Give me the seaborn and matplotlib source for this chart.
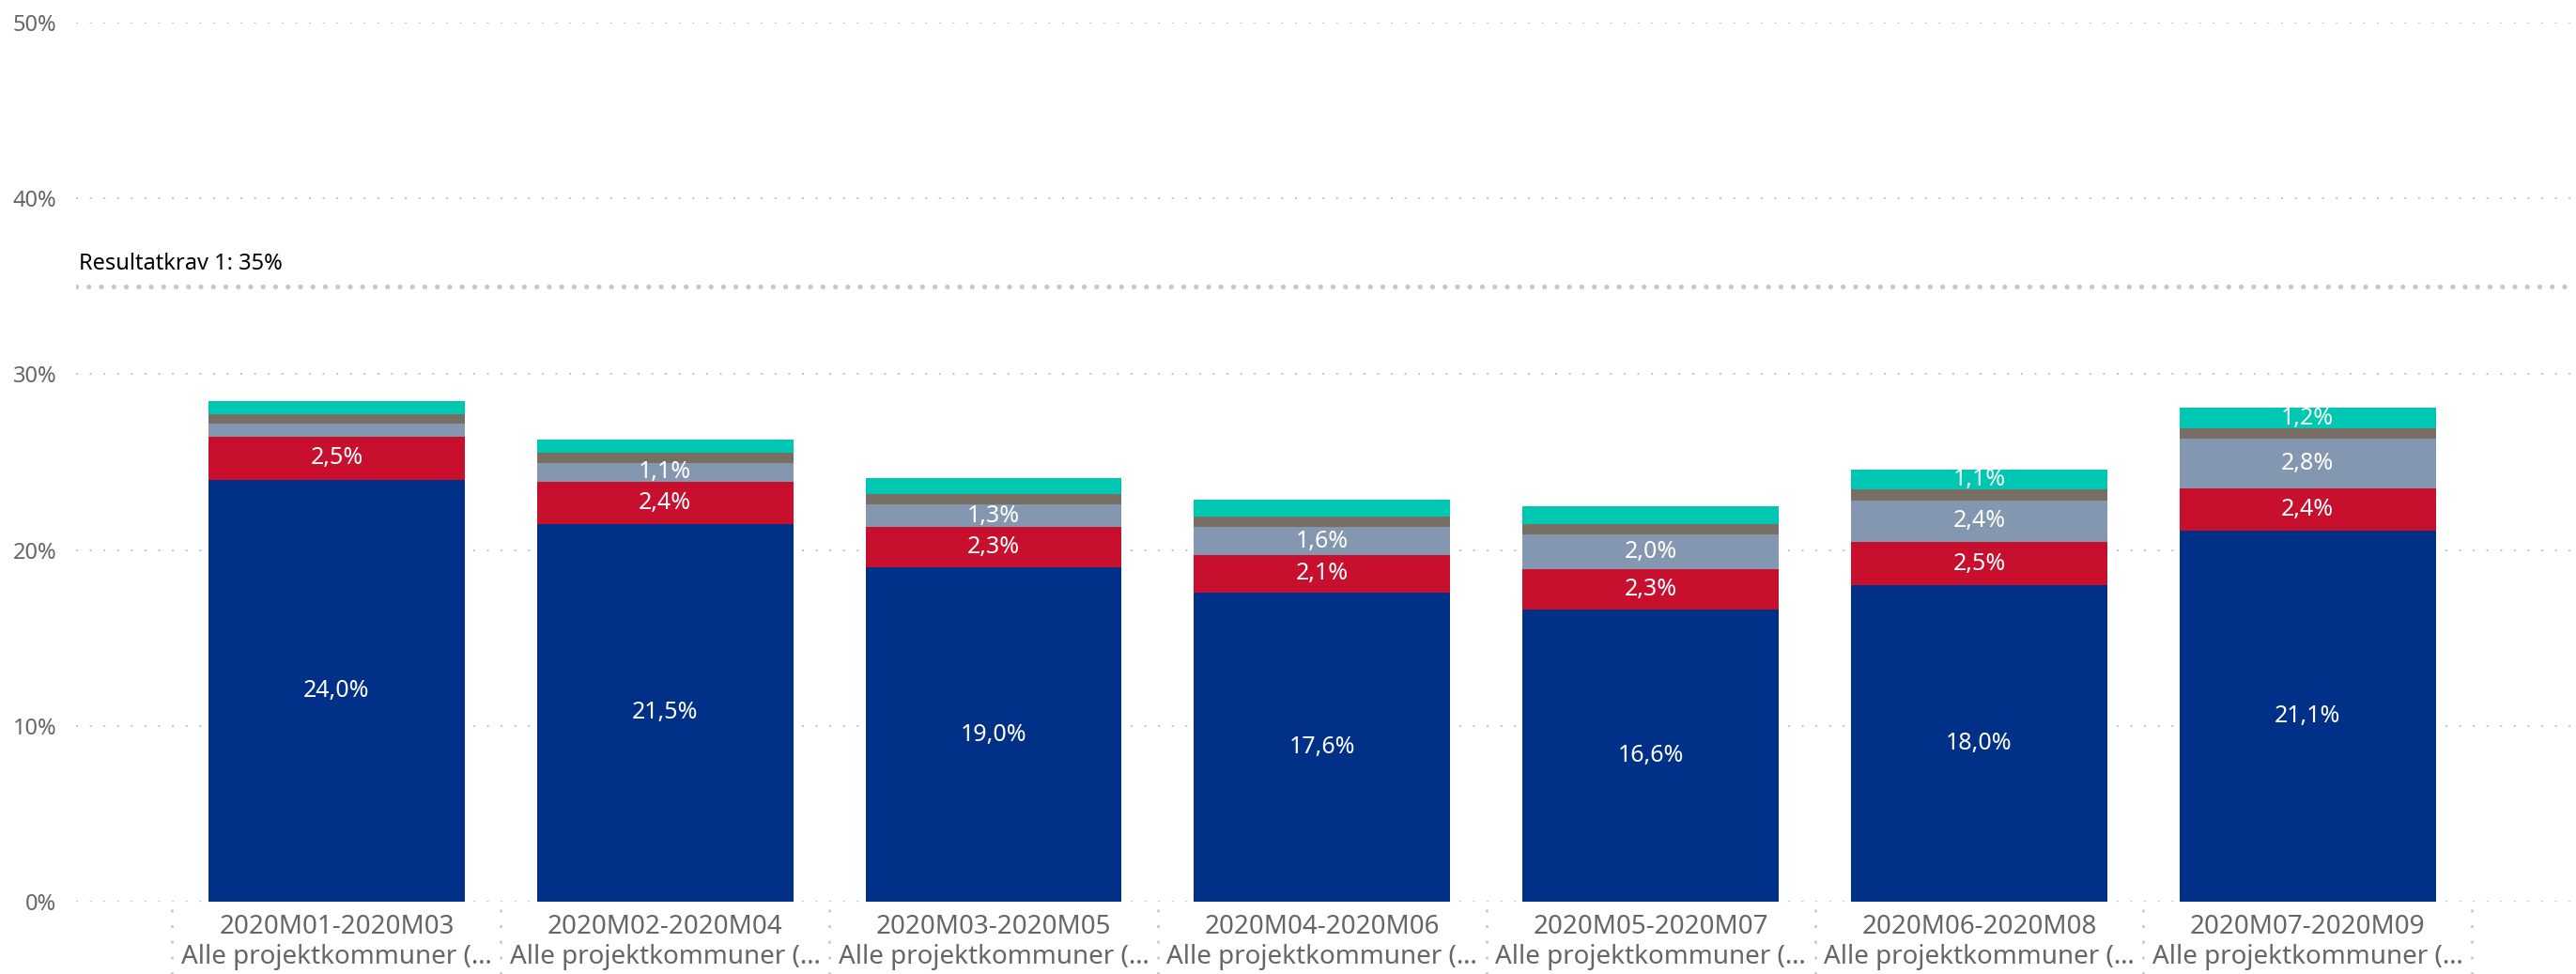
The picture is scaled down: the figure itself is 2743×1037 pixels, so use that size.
"""
Stablet søjlediagram: andel pr. periode for alle projektkommuner, med resultatkrav 1
"""
import numpy as np
import pandas as pd
import matplotlib
matplotlib.use("Agg")
import matplotlib.pyplot as plt
import matplotlib.transforms as mtransforms
import seaborn as sns

# Data (aflæst fra figuren, i procent)
perioder = ["2020M01-2020M03", "2020M02-2020M04", "2020M03-2020M05", "2020M04-2020M06",
            "2020M05-2020M07", "2020M06-2020M08", "2020M07-2020M09"]
gruppe = "Alle projektkommuner (…"

blaa = [24.0, 21.5, 19.0, 17.6, 16.6, 18.0, 21.1]
roed = [2.46, 2.38, 2.30, 2.13, 2.30, 2.46, 2.40]
graablaa = [0.74, 1.07, 1.27, 1.56, 1.98, 2.37, 2.82]
brun = [0.54, 0.58, 0.64, 0.59, 0.58, 0.64, 0.58]
turkis = [0.75, 0.75, 0.86, 0.96, 1.02, 1.12, 1.18]

resultatkrav = 35
resultatkrav_tekst = "Resultatkrav 1: 35%"
y_ticks = [0, 10, 20, 30, 40, 50]

farver = ["#003087", "#C8102E", "#8497B0", "#786E64", "#00C7B1"]
GRID_COLOR = "#c8c8c8"
TEXT_GRAY = "#666666"

sns.set_style("white")
plt.rcParams["font.family"] = ["Noto Sans", "DejaVu Sans"]

W, H = 2743, 1037
fig = plt.figure(figsize=(W / 100, H / 100), dpi=100)
ax = fig.add_axes([81 / W, 77 / H, 1 - 81 / W, 936 / H])

labels = [f"{p}\n{gruppe}" for p in perioder]
vaerdier = np.array([blaa, roed, graablaa, brun, turkis])
kumuleret = vaerdier.cumsum(axis=0)

# stablede søjler: tegn kumulerede summer fra øverst til nederst
for i in range(len(vaerdier) - 1, -1, -1):
    df = pd.DataFrame({"periode": labels, "andel": kumuleret[i]})
    sns.barplot(data=df, x="periode", y="andel", color=farver[i], saturation=1,
                width=0.78, linewidth=0, errorbar=None, ax=ax)

# dataetiketter i midten af hvert segment
for i in range(len(vaerdier)):
    for k in range(len(perioder)):
        v = vaerdier[i, k]
        if v >= 1.05:
            txt = f"{v:.1f}".replace(".", ",") + "%"
            ax.text(k, kumuleret[i, k] - v / 2, txt, ha="center", va="center",
                    color="white", fontsize=18)

ax.set_ylim(0, 50)
ax.set_xlim(-0.793, 6.817)
ax.set_yticks(y_ticks)
ax.set_yticklabels([f"{t}%" for t in y_ticks])
ax.set_xlabel("")
ax.set_ylabel("")
ax.tick_params(axis="y", length=0, pad=15, labelsize=17, labelcolor=TEXT_GRAY)
ax.tick_params(axis="x", length=0, pad=9, labelsize=20, labelcolor=TEXT_GRAY)
for lab in ax.get_xticklabels():
    lab.set_linespacing(1.2)

ax.yaxis.grid(True, color=GRID_COLOR, linestyle=(0, (1, 6)), linewidth=1.5)
ax.xaxis.grid(False)
ax.set_axisbelow(True)
sns.despine(ax=ax, left=True, bottom=True)

# resultatkrav-linje
ax.axhline(resultatkrav, color=GRID_COLOR, linestyle=(0, (0.01, 2.5)), linewidth=3.8,
           dash_capstyle="round", zorder=3)
trans = mtransforms.blended_transform_factory(ax.transAxes, ax.transData)
ax.text(0.001, resultatkrav + 0.95, resultatkrav_tekst, transform=trans,
        ha="left", va="baseline", fontsize=17, color="black")

# lodrette skillelinjer mellem kategorierne under aksen
trans_x = mtransforms.blended_transform_factory(ax.transData, ax.transAxes)
for b in np.arange(-0.5, len(perioder), 1):
    ax.plot([b, b], [-0.009, -0.085], transform=trans_x, clip_on=False,
            color=GRID_COLOR, linestyle=(0, (1, 5)), linewidth=2)

fig.savefig("out.png", dpi=100)
